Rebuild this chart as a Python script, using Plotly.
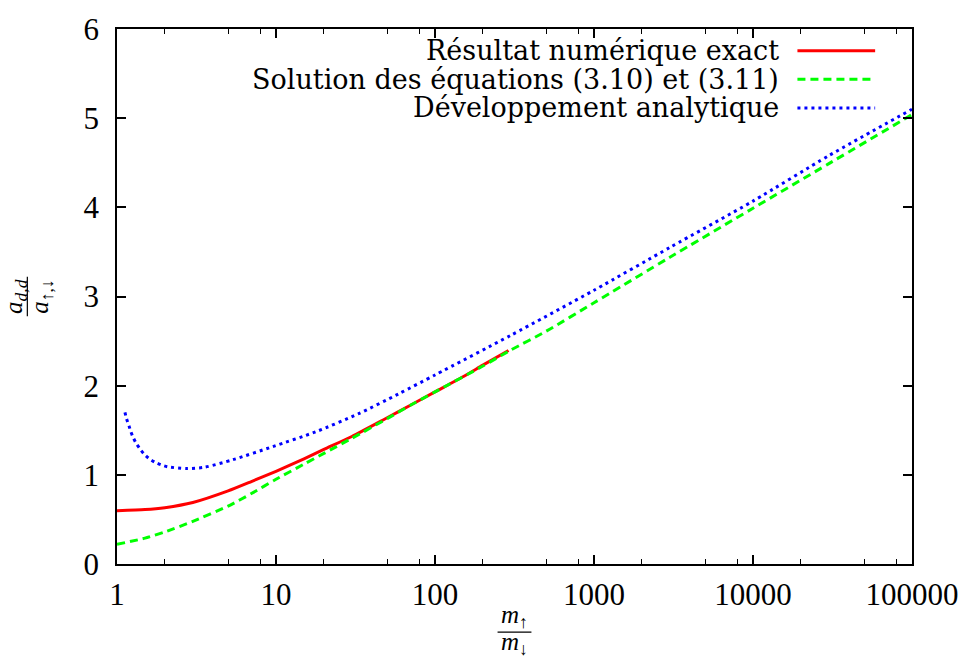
import plotly.graph_objects as go

# ---------------- data ----------------
x_exact = [1, 1.5, 2, 3, 5, 7, 10, 15, 20, 30, 50, 70, 100, 150, 200, 290]
y_exact = [0.598, 0.61, 0.632, 0.69, 0.82, 0.925, 1.04, 1.18, 1.285, 1.43, 1.64, 1.78, 1.93, 2.10, 2.23, 2.395]

x_sol = [1, 1.5, 2, 3, 5, 7, 10, 15, 20, 30, 50, 70, 100, 200, 300, 500, 1000, 3000, 10000, 30000, 100000]
y_sol = [0.221, 0.29, 0.36, 0.478, 0.65, 0.79, 0.95, 1.12, 1.24, 1.41, 1.63, 1.78, 1.93, 2.22, 2.40, 2.61, 2.93, 3.44, 3.99, 4.49, 5.04]

x_dev = [1.122, 1.148, 1.189, 1.221, 1.259, 1.318, 1.396, 1.479, 1.585, 1.738, 1.905, 2.089, 2.735, 3.55, 5.36, 9.55, 17.8, 33.1, 58.9, 100, 300, 1000, 3000, 10000, 30000, 100000]
y_dev = [1.70, 1.63, 1.55, 1.485, 1.425, 1.355, 1.29, 1.235, 1.185, 1.14, 1.11, 1.09, 1.07, 1.085, 1.17, 1.317, 1.483, 1.686, 1.907, 2.12, 2.565, 3.07, 3.55, 4.07, 4.58, 5.1]

series_names = ["Résultat numérique exact",
                "Solution des équations (3.10) et (3.11)",
                "Développement analytique"]

x_tickvals = [1, 10, 100, 1000, 10000, 100000]
x_ticktext = ["1", "10", "100", "1000", "10000", "100000"]
x_minor = [m * 10 ** d for d in range(5) for m in (2, 5, 8)]
y_tickvals = [0, 1, 2, 3, 4, 5, 6]

# ---------------- figure ----------------
W, H = 971, 662
L, R, T, B = 117, 915, 22, 564
colors = ["#ff0000", "#00ff00", "#0000ff"]
dashes = ["solid", "8px,5px", "3px,4px"]

fig = go.Figure()
fig.add_trace(go.Scatter(x=x_exact, y=y_exact, mode="lines", line=dict(color=colors[0], width=3, dash=dashes[0], shape="spline", smoothing=0.6), name=series_names[0], showlegend=False))
fig.add_trace(go.Scatter(x=x_sol, y=y_sol, mode="lines", line=dict(color=colors[1], width=3, dash=dashes[1], shape="spline", smoothing=0.6), name=series_names[1], showlegend=False))
fig.add_trace(go.Scatter(x=x_dev, y=y_dev, mode="lines", line=dict(color=colors[2], width=3, dash=dashes[2], shape="spline", smoothing=0.7), name=series_names[2], showlegend=False))

tickfont = dict(family="Liberation Serif", size=31, color="black")
common = dict(showline=True, linecolor="black", linewidth=1.5, mirror="ticks",
              ticks="inside", ticklen=9, tickwidth=1.5, tickcolor="black",
              showgrid=False, zeroline=False, tickfont=tickfont)

fig.update_layout(
    width=W, height=H,
    margin=dict(l=L, r=W - R, t=T, b=H - B, pad=0),
    paper_bgcolor="white", plot_bgcolor="white",
    xaxis=dict(type="log", range=[0, 5], tickmode="array", tickvals=x_tickvals, ticktext=x_ticktext,
               ticklabelstandoff=2,
               minor=dict(tickmode="array", tickvals=x_minor, ticks="inside", ticklen=5,
                          tickwidth=1, tickcolor="black", showgrid=False),
               **common),
    yaxis=dict(range=[0, 6], tickmode="array", tickvals=y_tickvals, ticklabelstandoff=10, **common),
)

def px2x(px):
    return (px - L) / (R - L)

def py2y(py):
    return (B - py) / (B - T)

# legend (text on left, sample on right, gnuplot style)
rows = [44, 73, 102]
legend_font = dict(family="DejaVu Serif", size=27, color="black")
for i, name in enumerate(series_names):
    fig.add_annotation(xref="paper", yref="paper", x=px2x(784), y=py2y(rows[i]), text=name,
                       showarrow=False, xanchor="right", yanchor="middle", font=legend_font)
    fig.add_shape(type="line", xref="paper", yref="paper", x0=px2x(800), x1=px2x(878),
                  y0=py2y(rows[i]), y1=py2y(rows[i]),
                  line=dict(color=colors[i], width=3, dash=dashes[i]))

# x axis title as a fraction m_up / m_down
tfont = dict(family="Liberation Serif", size=25, color="black")
fig.add_annotation(xref="paper", yref="paper", x=px2x(516), y=py2y(617), text="<i>m</i><sub>↑</sub>",
                   showarrow=False, xanchor="center", yanchor="middle", font=tfont)
fig.add_shape(type="line", xref="paper", yref="paper", x0=px2x(499), x1=px2x(533),
              y0=py2y(633), y1=py2y(633), line=dict(color="black", width=1.2))
fig.add_annotation(xref="paper", yref="paper", x=px2x(516), y=py2y(645), text="<i>m</i><sub>↓</sub>",
                   showarrow=False, xanchor="center", yanchor="middle", font=tfont)

# y axis title as a fraction a_dd / a_updown (rotated)
fig.add_annotation(xref="paper", yref="paper", x=px2x(15), y=py2y(293), text="<i>a</i><sub><i>d,d</i></sub>",
                   showarrow=False, textangle=-90, xanchor="center", yanchor="middle", font=tfont)
fig.add_shape(type="line", xref="paper", yref="paper", x0=px2x(27), x1=px2x(27),
              y0=py2y(273), y1=py2y(313), line=dict(color="black", width=1.2))
fig.add_annotation(xref="paper", yref="paper", x=px2x(41), y=py2y(293), text="<i>a</i><sub>↑,↓</sub>",
                   showarrow=False, textangle=-90, xanchor="center", yanchor="middle", font=tfont)

fig.write_html("out.html", config={"displayModeBar": False},
               post_script="document.body.style.margin='0px';")
